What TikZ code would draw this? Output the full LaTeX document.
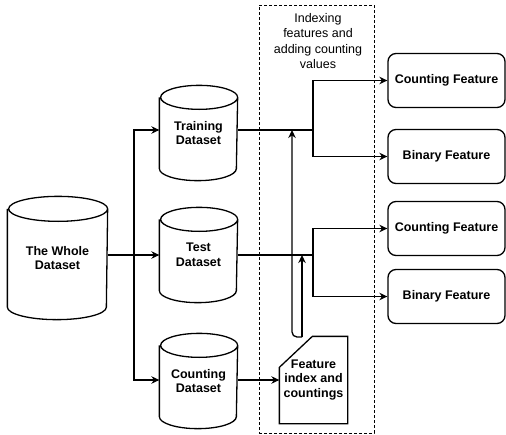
\documentclass[tikz,border=0pt]{standalone}
\usepackage{fontspec}
\setmainfont{Liberation Sans}
\usetikzlibrary{arrows.meta,positioning}

\newcommand*{\labelfont}{\fontsize{12.5}{14.5}\selectfont}
\newcommand*{\notefont}{\fontsize{12.5}{15.5}\selectfont}
% outline of a dataset drum around node #1, ellipse radii #2 and #3
\newcommand*{\drum}[3]{%
	\draw ([yshift=-#3]#1.north west) -- ([yshift=#3]#1.south west)
		arc[start angle=180,end angle=360,x radius=#2,y radius=#3]
		-- ([yshift=-#3]#1.north east)
		arc[start angle=0,end angle=360,x radius=#2,y radius=#3];}

\begin{document}
\begin{tikzpicture}
[
	x=1pt, y=-1pt,
	line width=1.3pt,
	>={Stealth[length=8pt,width=7.5pt]},
	db/.style={minimum width=77pt,minimum height=94pt,align=center,inner sep=0pt,font=\labelfont\bfseries},
	feat/.style={draw,rounded corners=8pt,minimum width=117pt,minimum height=54pt,font=\labelfont\bfseries},
	cardtext/.style={minimum width=67pt,minimum height=86pt,inner sep=0pt,align=center,font=\labelfont\bfseries},
	stage/.style={draw,dash pattern=on 3pt off 2pt,line width=1pt,minimum width=115pt,minimum height=428pt}
]

	\useasboundingbox (0,0) rectangle (506,434);

	% datasets
	\node[db,minimum width=99pt,minimum height=122pt] (whole) at (57.5,258) {The Whole\\Dataset};
	\node[db] (train) at (198.5,133) {Training\\Dataset};
	\node[db] (test) at (198.5,255) {Test\\Dataset};
	\node[db] (counting) at (198.5,381) {Counting\\Dataset};
	\drum{whole}{49.5pt}{12.5pt}
	\drum{train}{38.5pt}{12pt}
	\drum{test}{38.5pt}{12pt}
	\drum{counting}{38.5pt}{12pt}

	% indexing stage
	\node[stage] (frame) at (316.5,219) {};
	\node[align=center,font=\notefont] (note) at (318,41) {Indexing\\features and\\adding counting\\values};
	\node[cardtext] (index) at (313.5,380) {Feature\\index and\\countings};
	\draw ([yshift=-31pt]index.north west) -- ([xshift=33pt]index.north west)
		-- (index.north east) -- (index.south east) -- (index.south west) -- cycle;

	% features
	\node[feat] (cf1) at (446.5,80.5) {Counting Feature};
	\node[feat] (bf1) at (446.5,156.5) {Binary Feature};
	\node[feat] (cf2) at (446.5,228.5) {Counting Feature};
	\node[feat] (bf2) at (446.5,296.5) {Binary Feature};

	% splitting the whole dataset
	\coordinate (split) at (134,255);
	\coordinate (jtrain) at (313,130);
	\coordinate (jtest) at (313,255);
	\draw (whole.east |- split) -- (split);
	\draw[->] (split) |- (train.west |- jtrain);
	\draw[->] (split) -- (test.west |- jtest);
	\draw[->] (split) |- (counting.west |- index.west);
	\draw[->] (counting.east |- index.west) -- (index.west);

	% branching to features
	\draw (train.east |- jtrain) -- (jtrain);
	\draw[->] (jtrain) |- (cf1.west);
	\draw[->] (jtrain) |- (bf1.west);
	\draw (test.east |- jtest) -- (jtest);
	\draw[->] (jtest) |- (cf2.west);
	\draw[->] (jtest) |- (bf2.west);

	% feed back the index
	\coordinate (tap) at (302,337);
	\coordinate (bend) at (292,337);
	\draw[->] (tap) -- (tap |- jtest);
	\draw[->,rounded corners=5pt] (tap) -- (bend) -- (bend |- jtrain);

\end{tikzpicture}
\end{document}
